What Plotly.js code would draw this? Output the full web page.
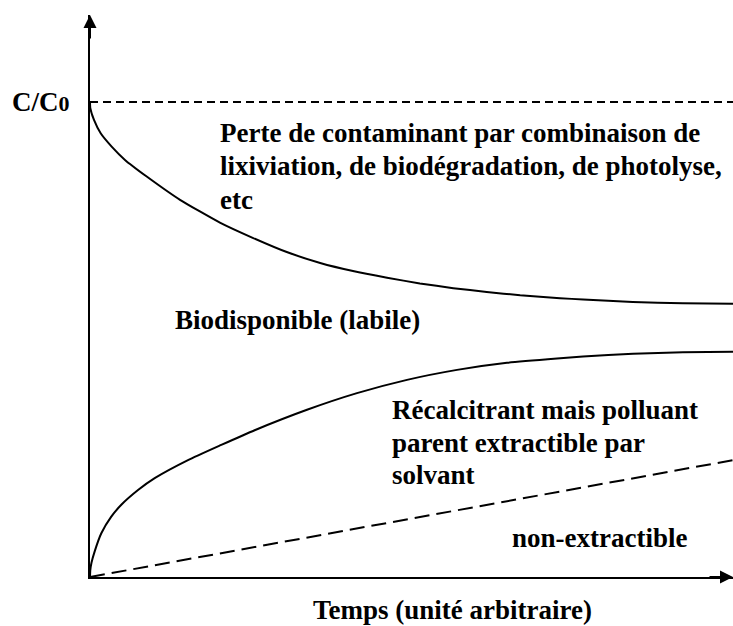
<!DOCTYPE html>
<html>
<head>
<meta charset="utf-8">
<script src="https://cdn.plot.ly/plotly-3.0.1.min.js"></script>
<style>html,body{margin:0;padding:0;background:#fff;}#chart{width:733px;height:626px;}</style>
</head>
<body>
<div id="chart"></div>
<script>
// Time (arbitrary units) and C/C0 values
const lossTime = [0, 0.005, 0.062, 0.166, 0.337, 0.544, 0.882, 1.40, 2.02, 2.53, 3.06, 3.58, 4.09, 4.62, 5.13, 5.65, 6.17, 6.69, 7.31, 7.67, 8.44, 9.22, 10];
const lossValue = [1.000, 0.987, 0.962, 0.934, 0.906, 0.878, 0.843, 0.794, 0.746, 0.714, 0.684, 0.661, 0.644, 0.630, 0.618, 0.608, 0.600, 0.593, 0.587, 0.584, 0.579, 0.576, 0.575];

const recalTime = [0, 0.005, 0.023, 0.073, 0.176, 0.331, 0.487, 0.747, 1.006, 1.524, 2.042, 2.561, 3.375, 4.152, 4.930, 5.708, 6.485, 7.263, 7.667, 8.445, 9.222, 10];
const recalValue = [0, 0.015, 0.030, 0.054, 0.092, 0.127, 0.152, 0.183, 0.208, 0.246, 0.278, 0.309, 0.352, 0.387, 0.415, 0.436, 0.451, 0.460, 0.464, 0.470, 0.473, 0.474];

const nonExtTime = [0, 10];
const nonExtValue = [0, 0.246];

const initTime = [0, 10];
const initValue = [1, 1];

const fontFam = 'Liberation Serif';
const fs = 27;
const black = '#000000';

const traces = [
  {x: initTime, y: initValue, mode: 'lines', line: {color: black, width: 2, dash: '8px,5px'}, hoverinfo: 'skip'},
  {x: lossTime, y: lossValue, mode: 'lines', line: {color: black, width: 2, shape: 'spline', smoothing: 0.5}, hoverinfo: 'skip'},
  {x: recalTime, y: recalValue, mode: 'lines', line: {color: black, width: 2, shape: 'spline', smoothing: 0.5}, hoverinfo: 'skip'},
  {x: nonExtTime, y: nonExtValue, mode: 'lines', line: {color: black, width: 2, dash: '15px,7px'}, hoverinfo: 'skip'}
];

function txt(text, x, y, xanchor) {
  return {text: '<b>' + text + '</b>', x: x, y: y, xref: 'x', yref: 'y', xanchor: xanchor || 'left', yanchor: 'middle',
          showarrow: false, font: {family: fontFam, size: fs, color: black}};
}

const yTop = 1.183;
const annotations = [
  txt('Perte de contaminant par combinaison de', 1.99, 0.935),
  txt('lixiviation, de biodégradation, de photolyse,', 1.99, 0.865),
  txt('etc', 1.99, 0.794),
  txt('Biodisponible (labile)', 1.29, 0.541),
  txt('Récalcitrant mais polluant', 4.665, 0.352),
  txt('parent extractible par', 4.665, 0.282),
  txt('solvant', 4.665, 0.215),
  txt('non-extractible', 6.53, 0.082),
  {text: '<b>Temps (unité arbitraire)</b>', x: 5.645, y: -0.0587, xref: 'x', yref: 'paper', xanchor: 'center', yanchor: 'middle',
   showarrow: false, font: {family: fontFam, size: fs, color: black}},
  {text: '<b>C/C<span style="font-size:22px">0</span></b>', x: -0.124, y: 1.0, xref: 'paper', yref: 'y', xanchor: 'left', yanchor: 'middle',
   showarrow: false, font: {family: fontFam, size: fs, color: black}},
  // axis arrow heads
  {text: '', x: 0, y: yTop, xref: 'x', yref: 'y', ax: 0, ay: 25, axref: 'pixel', ayref: 'pixel', showarrow: true,
   arrowhead: 2, arrowsize: 1.3, arrowwidth: 2, arrowcolor: black},
  {text: '', x: 10, y: 0, xref: 'x', yref: 'y', ax: -25, ay: 0, axref: 'pixel', ayref: 'pixel', showarrow: true,
   arrowhead: 2, arrowsize: 1.3, arrowwidth: 2, arrowcolor: black}
];

const layout = {
  width: 733, height: 626,
  margin: {l: 90, r: 0, t: 15, b: 49, pad: 0},
  paper_bgcolor: '#ffffff', plot_bgcolor: '#ffffff',
  showlegend: false,
  font: {family: fontFam},
  xaxis: {range: [0, 10], showgrid: false, zeroline: false, showticklabels: false, ticks: '',
          showline: true, linecolor: black, linewidth: 2, fixedrange: true},
  yaxis: {range: [0, yTop], showgrid: false, zeroline: false, showticklabels: false, ticks: '',
          showline: true, linecolor: black, linewidth: 2, fixedrange: true},
  annotations: annotations
};

Plotly.newPlot('chart', traces, layout, {displayModeBar: false, staticPlot: true});
</script>
</body>
</html>
